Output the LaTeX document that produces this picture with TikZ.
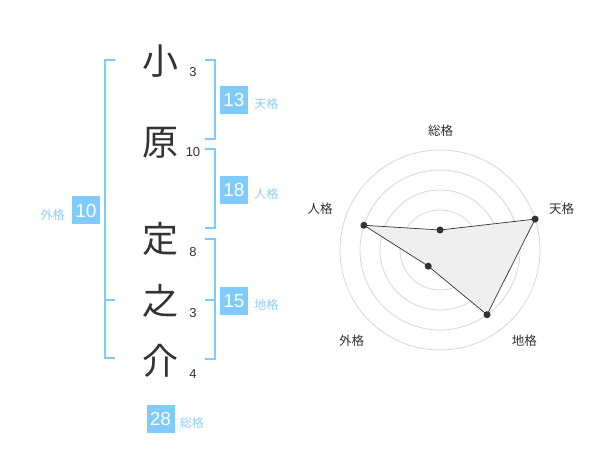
\documentclass[tikz,border=0pt]{standalone}
\usepackage{fontspec}
\setmainfont{Liberation Sans}
\newfontfamily\jpfont{Noto Sans CJK JP}
\usepackage{tikz}
\usetikzlibrary{positioning}
\usepackage{xcolor}
\definecolor{kakublue}{HTML}{7FCBFB}
\definecolor{kakulight}{HTML}{8ECFF6}
\definecolor{inkgray}{HTML}{333333}
\definecolor{ringgray}{HTML}{D2D2D2}
\definecolor{webfill}{HTML}{EFEFEF}

\begin{document}
\begin{tikzpicture}[x=1pt, y=-1pt,
    kanji/.style={inner sep=0pt, anchor=base, text=inkgray, font=\jpfont\fontsize{36}{36}\selectfont},
    strokes/.style={inner sep=0pt, anchor=base, text=inkgray, font=\fontsize{13}{13}\selectfont},
    kakubox/.style={fill=kakublue, text=white, minimum size=28pt, inner sep=0pt, font=\fontsize{19}{19}\selectfont},
    kakulabel/.style={inner sep=0pt, text=kakulight, font=\jpfont\fontsize{12}{12}\selectfont},
    bracket/.style={draw=kakublue, line width=2pt},
    ring/.style={draw=ringgray, line width=0.7pt},
    axislabel/.style={inner sep=0pt, text=inkgray, font=\jpfont\fontsize{12.5}{12.5}\selectfont},
    dot/.style={circle, fill=inkgray, inner sep=0pt, minimum size=7pt}]

        \path[use as bounding box, fill=white] (0,0) rectangle (600,470);

        % NAME
        % -----------------

        \node[kanji] (sei_1) at (160,75) {小};
        \node[kanji] (sei_2) at (160,156) {原};
        \node[kanji] (mei_1) at (160,253) {定};
        \node[kanji] (mei_2) at (160,315) {之};
        \node[kanji] (mei_3) at (160,375) {介};

        \node[strokes] (sei_1_n) at ([xshift=33pt, yshift=-2pt]sei_1.base) {3};
        \node[strokes] (sei_2_n) at ([xshift=33pt, yshift=-1pt]sei_2.base) {10};
        \node[strokes] (mei_1_n) at ([xshift=33pt, yshift=-4pt]mei_1.base) {8};
        \node[strokes] (mei_2_n) at ([xshift=33pt, yshift=-3pt]mei_2.base) {3};
        \node[strokes] (mei_3_n) at ([xshift=33pt, yshift=-3pt]mei_3.base) {4};

        % BRACKETS
        % -----------------

        % Outer bracket
        \draw[bracket] (115,60) -| (105,358) -- (115,358);
        \draw[bracket] (105,300) -- (115,300);

        % Heaven, person and earth brackets
        \draw[bracket] (205,60) -| (215,139) -- (205,139);
        \draw[bracket] (205,149) -| (215,228) -- (205,228);
        \draw[bracket] (205,239) -| (215,359) -- (205,359);
        \draw[bracket] (205,300) -- (215,300);

        % SCORES
        % -----------------

        \node[kakubox] (tenkaku) at (234,100) {13};
        \node[kakulabel, base right=6pt of tenkaku, yshift=-2pt] (tenkaku_l) {天格};

        \node[kakubox] (jinkaku) at (234,190) {18};
        \node[kakulabel, base right=6pt of jinkaku, yshift=-2pt] (jinkaku_l) {人格};

        \node[kakubox] (chikaku) at (234,301) {15};
        \node[kakulabel, base right=6pt of chikaku, yshift=-2pt] (chikaku_l) {地格};

        \node[kakubox] (gaikaku) at (86,210.5) {10};
        \node[kakulabel, base left=7pt of gaikaku, yshift=-2pt] (gaikaku_l) {外格};

        \node[kakubox] (sokaku) at (160.5,419) {28};
        \node[kakulabel, base right=5pt of sokaku, yshift=-2pt] (sokaku_l) {総格};

        % RADAR
        % -----------------

        \begin{scope}[shift={(440,250)}, x=1pt, y=1pt]
            \foreach \r in {20,40,...,100}
                \draw[ring] (0,0) circle[radius=\r];
            \node[circle, fill=ringgray, inner sep=0pt, minimum size=7pt] (hub) at (0,0) {};

            \coordinate (v_so) at (90:20);
            \coordinate (v_ten) at (18:100);
            \coordinate (v_chi) at (-54:80);
            \coordinate (v_gai) at (-126:20);
            \coordinate (v_jin) at (162:80);

            \filldraw[fill=webfill, draw=inkgray, line width=0.7pt]
                (v_so) -- (v_ten) -- (v_chi) -- (v_gai) -- (v_jin) -- cycle;
            \foreach \v in {so,ten,chi,gai,jin}
                \node[dot] (d_\v) at (v_\v) {};

            \node[axislabel] (a_so) at (0.7,119.3) {総格};
            \node[axislabel] (a_ten) at (121.7,41) {天格};
            \node[axislabel] (a_chi) at (84.3,-91) {地格};
            \node[axislabel] (a_gai) at (-88.3,-91) {外格};
            \node[axislabel] (a_jin) at (-120,41) {人格};
        \end{scope}

\end{tikzpicture}
\end{document}
